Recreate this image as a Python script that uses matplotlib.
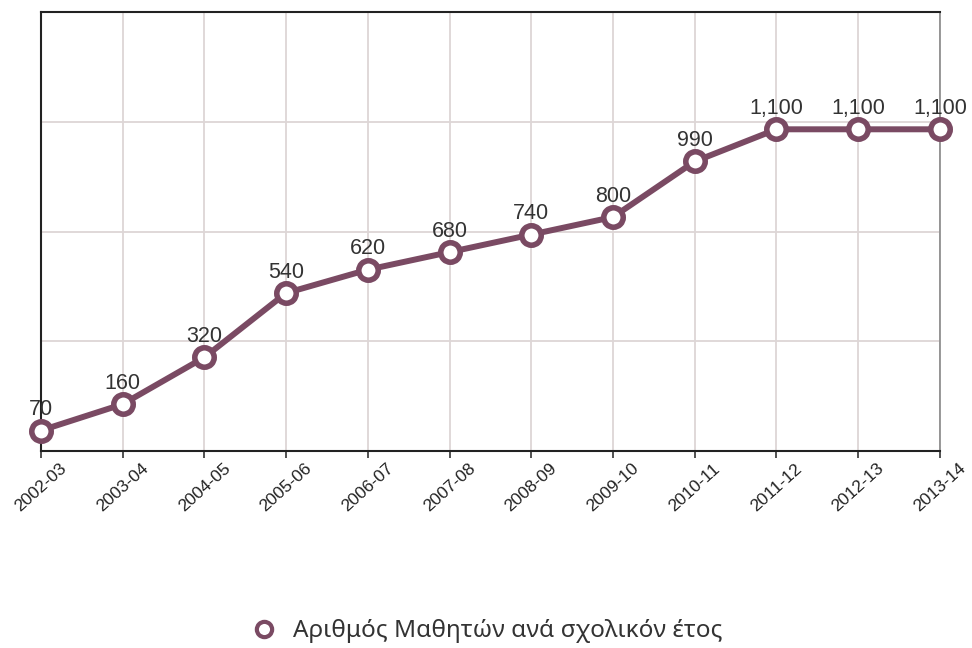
import matplotlib
matplotlib.use("Agg")
import matplotlib.pyplot as plt
from matplotlib.ticker import FixedLocator

years = ["2002-03", "2003-04", "2004-05", "2005-06", "2006-07", "2007-08",
         "2008-09", "2009-10", "2010-11", "2011-12", "2012-13", "2013-14"]
students = [70, 160, 320, 540, 620, 680, 740, 800, 990, 1100, 1100, 1100]
series_name = "Αριθμός Μαθητών ανά σχολικόν έτος"
y_grid = [375, 750, 1125, 1500]

color = "#7a4a63"

fig = plt.figure(figsize=(9.72, 6.48), dpi=100)
ax = fig.add_axes([0.042, 0.304, 0.925, 0.677])

x = list(range(len(years)))
ax.plot(x, students, color=color, lw=4.3, marker="o", ms=14, mfc="white",
        mec=color, mew=4, zorder=5, clip_on=False, label=series_name)

for xi, v in zip(x, students):
    ax.annotate(f"{v:,}", (xi, v), xytext=(0, 11), textcoords="offset points",
                ha="center", va="baseline", fontsize=15.5, color="#333333",
                family="Liberation Sans", zorder=6)

ax.set_xlim(0, len(years) - 1)
ax.set_ylim(0, 1500)
ax.set_xticks(x)
ax.set_xticklabels(years, rotation=42, ha="center", fontsize=12.5,
                   family="Liberation Sans", color="#222222")
ax.yaxis.set_major_locator(FixedLocator(y_grid))
ax.tick_params(axis="y", left=False, labelleft=False)
ax.tick_params(axis="x", direction="out", length=5, width=1.2, color="#333333", pad=2)
ax.grid(True, color="#ddd6d6", lw=1.3, zorder=0)

for s in ["left", "top", "bottom"]:
    ax.spines[s].set_color("#222222")
    ax.spines[s].set_linewidth(1.5)
ax.spines["right"].set_color("#888888")
ax.spines["right"].set_linewidth(1.2)

leg = fig.legend(loc="center", bbox_to_anchor=(0.5, 0.026), frameon=False,
                 prop={"family": "Noto Sans", "size": 17.5}, handlelength=1.2,
                 handletextpad=0.6)
for h in leg.legend_handles:
    h.set_linestyle("none")
    h.set_markersize(11)
    h.set_markeredgewidth(3)
for t in leg.get_texts():
    t.set_color("#333333")

fig.savefig("out.png", dpi=100)
